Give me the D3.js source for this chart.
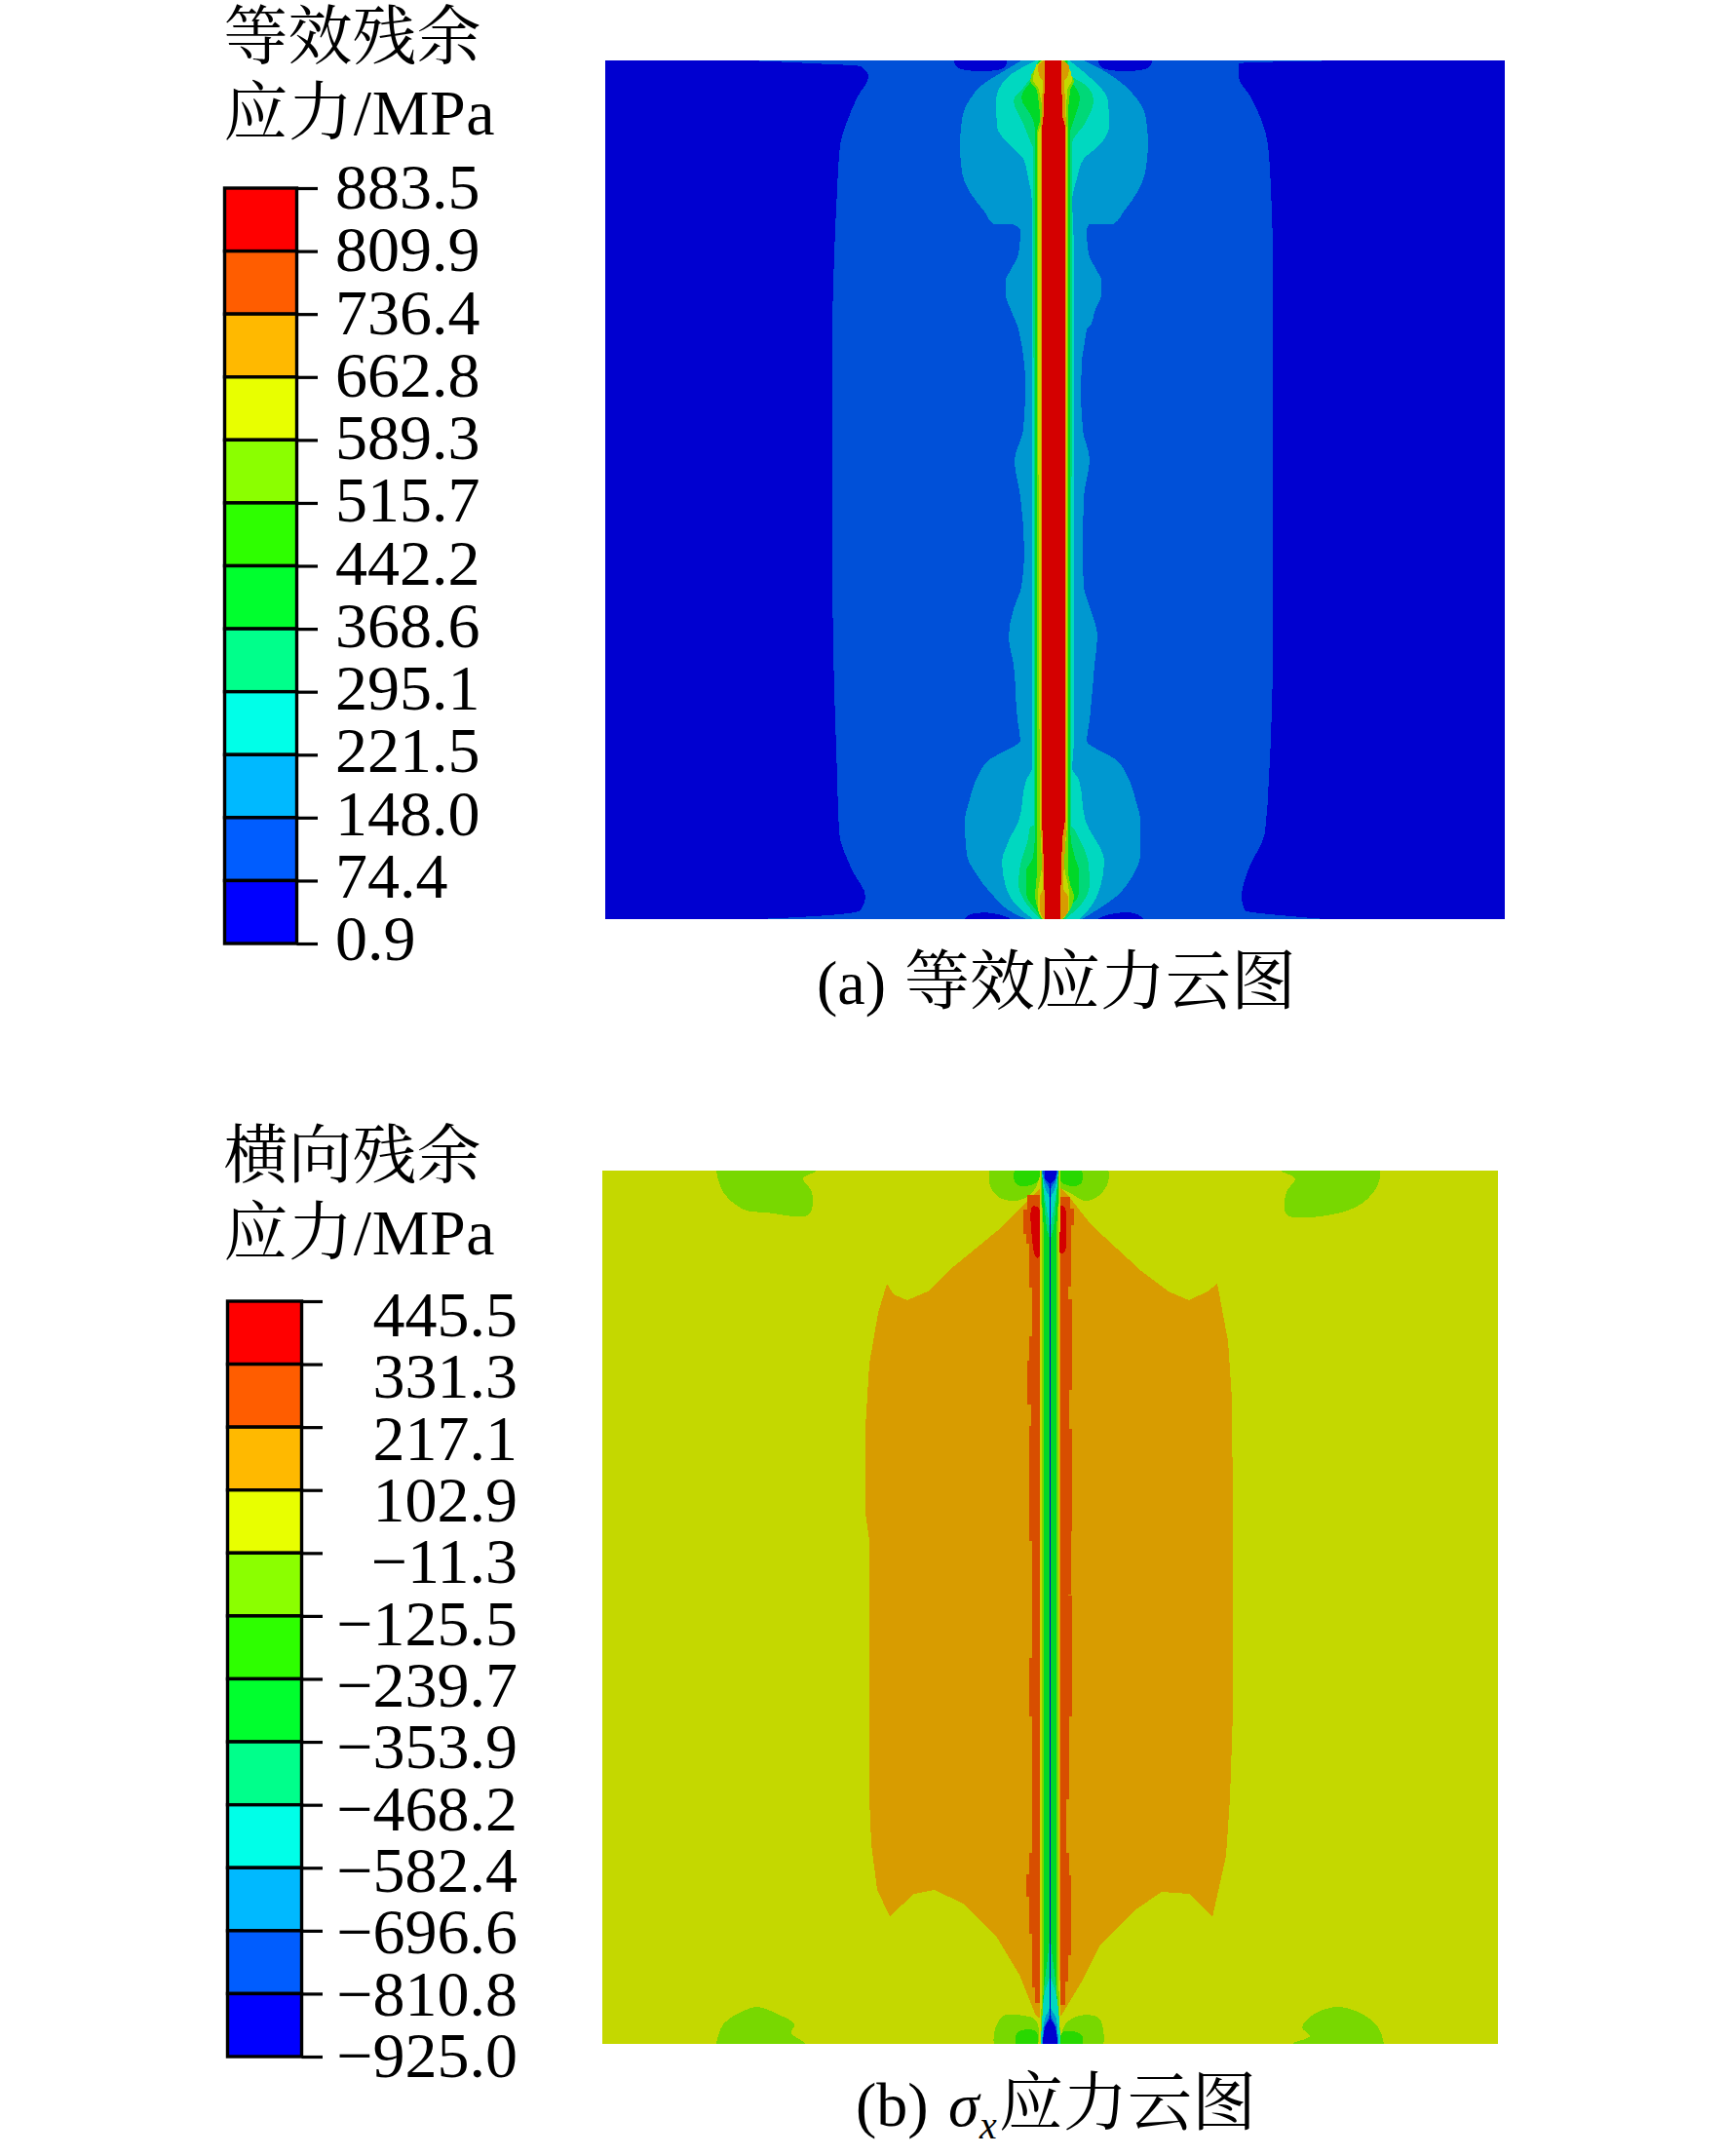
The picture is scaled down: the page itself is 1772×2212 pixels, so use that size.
<!DOCTYPE html>
<html><head><meta charset="utf-8">
<script src="https://cdn.jsdelivr.net/npm/d3@7"></script>
<style>
html,body{margin:0;padding:0;background:#fff}
svg{display:block}
text{font-family:"Liberation Serif","Noto Serif CJK SC","Noto Sans CJK SC",serif;fill:#000}
</style></head><body>
<script>
// ---- legends ----
const legendColors = ["#FF0000","#FF5D00","#FFB900","#E8FF00","#8BFF00","#2EFF00","#00FF2E","#00FF8B","#00FFE8","#00B9FF","#005DFF","#0000FF"];
const ticksA = [883.5,809.9,736.4,662.8,589.3,515.7,442.2,368.6,295.1,221.5,148.0,74.4,0.9];
const ticksB = [445.5,331.3,217.1,102.9,-11.3,-125.5,-239.7,-353.9,-468.2,-582.4,-696.6,-810.8,-925.0];
const titleA = ["等效残余","应力/MPa"];
const titleB = ["横向残余","应力/MPa"];
// ---- shaded field colours ----
const C = {bg:"#0000D0",b1:"#0050D8",b2:"#0098D0",teal:"#00D8C0",sea:"#00D878",grn:"#00D828",gr2:"#28D800",lime:"#78D800",yel:"#C4D800",org:"#D89C00",ror:"#D84E00",red:"#D40000"};
// ---- panel (a): contour bands, rows of [y, left, right] ----
const a1=[[0,144,760],[3,209,647],[6,259,647],[17,267,647],[37,256,659],[63,245,671],[86,238,677],[132,235,680],[200,232,682],[276,230,682],[505,230,682],[606,231,682],[735,235,678],[792,237,674],[832,251,656],[858,264,650],[872,259,653],[878,212,700],[881,153,736]];
const a2=[[0,424,488],[8,411,504],[25,384,529],[40,371,543],[55,364,551],[85,361,554],[115,363,551],[135,371,543],[155,386,529],[168,396,518],[168.5,416,493],[175,423,491],[198,421,493],[215,413,501],[225,408,506],[240,408,506],[258,414,499],[270,419,496],[276,421,491],[333,428,485],[379,426,487],[410,417,494],[448,423,488],[505,427,487],[540,424,488],[563,416,495],[591,411,502],[620,416,499],[677,420,494],[698,423,491],[708,408,504],[716,393,519],[735,379,533],[758,371,541],[781,366,546],[815,368,546],[835,378,539],[858,396,521],[875,416,496],[881,429,486]];
const a3=[[0,439,473],[18,409,495],[41,398,513],[68,399,514],[88,413,503],[101,426,488],[121,431,481],[145,435,476],[190,435,478],[700,435,478],[726,435,476],[738,429,483],[781,421,490],[798,412,499],[808,408,505],[821,404,509],[848,408,505],[871,423,493],[881,436,483]];
const a4=[[0,441,472],[11,438,471],[28,426,493],[41,416,498],[65,426,489],[85,434,476],[90,436,476],[785,437,475],[786,433,476],[798,431,483],[825,423,493],[845,421,494],[865,429,486],[881,443,469]];
const a5=[[0,442,471],[18,436,474],[38,424,484],[61,436,478],[75,438,474],[790,438,474],[818,436,479],[831,429,483],[855,429,483],[875,441,469],[881,444,468]];
const a6=[[0,444,469],[8,438,470],[21,433,478],[31,440,474],[60,443,472],[75,440,472],[830,440,472],[845,439,474],[858,438,478],[871,441,474],[881,445,467]];
const a7=[[0,446,466],[5,439,472],[20,436,476],[30,442,471],[60,446,470],[75,441,471],[778,443,471],[825,445,468],[855,441,473],[871,441,473],[881,446,466]];
const a8=[[0,447,465],[6,441,473],[15,442,472],[22,446,468],[70,444,470],[778,444,470],[850,446,467],[858,443,472],[872,443,472],[881,447,465]];
const a9=[[0,448,465],[55,447,466],[70,445,469],[778,445,469],[798,446,466],[881,448,464]];
const aPatches=[[[355,0],[409,0],[405,8],[360,8]],[[503,0],[558,0],[553,8],[508,8]],[[366,881],[372,876],[395,875],[413,881]],[[503,881],[515,876],[540,875],[549,881]]];
// ---- panel (b): polygons of [x, y] and rows of [y, left, right] ----
const bOrange=[[450,18],[445,22],[405,62],[355,103],[334,124],[313,133],[299,127],[292,116],[283,146],[274,198],[270,263],[270,351],[274,380],[274,644],[276,691],[282,738],[295,765],[320,742],[341,738],[370,752],[405,787],[428,825],[444,865],[447,869],[471,867],[492,832],[511,794],[546,759],[574,740],[602,742],[626,766],[640,703],[644,644],[647,556],[647,351],[646,234],[642,175],[631,116],[621,124],[602,133],[581,124],[553,103],[502,56],[475,22],[470,18]];
const bBlobs=[[[117,-4],[117,0],[124,22],[145,40],[168,43],[212,45],[215,22],[206,8],[220,0],[220,-4]],[[696,-4],[696,0],[711,8],[702,22],[702,45],[749,45],[779,34],[796,14],[796,-4]],[[117,900],[117,896],[124,876],[145,862],[159,858],[179,865],[197,876],[194,885],[209,896],[209,900]],[[708,900],[708,896],[726,888],[718,879],[731,865],[755,858],[779,865],[796,879],[802,896],[802,900]],[[400,-4],[397,12],[405,26],[419,31],[432,29],[445,17],[447,-4]],[[469,-4],[469,16],[482,24],[495,31],[509,26],[519,12],[517,-4]],[[404,900],[403,881],[412,867],[432,867],[445,872],[445,900]],[[472,900],[475,876],[490,867],[509,869],[514,882],[512,900]]];
const bInner=[[[425,-4],[423,11],[430,16],[447,11],[447,-4]],[[470,-4],[470,11],[484,16],[492,12],[490,-4]],[[426,900],[426,884],[445,883],[445,900]],[[472,900],[472,884],[487,884],[493,889],[490,900]]];
const bLeftEdge=[[25,444],[40,436],[65,432],[75,435],[120,438],[170,441],[195,438],[240,436],[262,440],[380,438],[500,441],[560,438],[670,441],[700,441],[722,438],[745,435],[783,438],[838,441],[854,444]];
const bRightEdge=[[27,475],[39,480],[56,484],[119,481],[132,478],[225,482],[265,479],[370,482],[435,481],[436,478],[560,482],[645,479],[700,476],[723,479],[745,481],[805,481],[832,478],[856,475]];
const bRedL=[[[441,37],[446,37],[448,38],[448,89],[445,89],[441,70]],[[469,37],[474,37],[476,60],[474,84],[469,84]]];
const bYel=[[0,449,470],[30,449,470],[100,449,469],[800,449,469],[860,449,470],[896,449,470]];
const bLime=[[0,450,469],[100,451,468],[800,451,468],[896,450,470]];
const bGrn=[[0,451,468],[30,451,468],[60,453,466],[820,453,466],[860,452,467],[896,450,469]];
const bSea=[[0,451,468],[25,453,466],[60,456,463],[70,459,460],[782,459,460],[842,453,466],[860,452,467],[896,450,470]];
const bTeal=[[0,451,468],[22,453,466],[40,456,463],[60,459,460],[825,459,460],[843,454,465],[860,452,468],[896,450,470]];
const bSky=[[0,451,468],[12,453,466],[22,456,463],[28,459,460],[858,459,460],[870,454,466],[896,451,468]];
const bMid=[[0,452,467],[10,454,465],[20,459,460],[865,459,460],[880,453,466],[896,452,467]];
const bBlue=[[0,454,466],[8,454,465],[14,459,460],[869,459,460],[879,454,465],[896,452,467]];

const svg=d3.select("body").append("svg").attr("width",1772).attr("height",2212);

// ---- panel builders ----
function panel(x0,x1,y0,y1,domX,domY,bg,id){
  const x=d3.scaleLinear().domain(domX).range([x0,x1]);
  const y=d3.scaleLinear().domain(domY).range([y0,y1]);
  const g=svg.append("g").attr("shape-rendering","crispEdges");
  g.append("clipPath").attr("id",id).append("rect").attr("x",x0).attr("y",y0).attr("width",x1-x0).attr("height",y1-y0);
  const body=g.append("g").attr("clip-path",`url(#${id})`);
  body.append("rect").attr("x",x0).attr("y",y0).attr("width",x1-x0).attr("height",y1-y0).attr("fill",bg);
  const area=d3.area().y(d=>y(d[0])).x0(d=>x(d[1])).x1(d=>x(d[2]));
  const poly=d3.line().x(d=>x(d[0])).y(d=>y(d[1]));
  return {
    band:(rows,c,curve=d3.curveMonotoneY)=>body.append("path").attr("d",area.curve(curve)(rows)).attr("fill",c),
    polys:(list,c,curve=d3.curveCatmullRomClosed.alpha(0.5))=>body.selectAll(null).data(list).enter().append("path").attr("d",d=>poly.curve(curve)(d)).attr("fill",c)
  };
}
// (a): x reference 624 for value 0, plot spans 621–1544
const pa=panel(621,1544,62,943,[-3,920],[0,881],C.bg,"clipA");
pa.band(a1,C.b1);
pa.polys(aPatches,C.bg);
pa.band(a2,C.b2); pa.band(a3,C.teal); pa.band(a4,C.sea); pa.band(a5,C.grn);
pa.band(a6,C.lime); pa.band(a7,C.yel); pa.band(a8,C.org); pa.band(a9,C.red);

// (b)
const pb=panel(618,1537,1201,2097,[0,919],[0,896],C.yel,"clipB");
pb.polys(bBlobs,C.lime); pb.polys(bInner,C.gr2);
pb.polys([bOrange],C.org,d3.curveLinearClosed);
// red-orange stripes built from the edge readings
const leftStripe=bLeftEdge.map(d=>[d[0],d[1],448.5]);
const rightStripe=bRightEdge.map(d=>[d[0],470,d[1]]);
pb.band(leftStripe,C.ror,d3.curveStepAfter); pb.band(rightStripe,C.ror,d3.curveStepAfter);
pb.polys(bRedL,C.red);
pb.band(bYel,C.yel); pb.band(bLime,C.lime); pb.band(bGrn,C.grn);
pb.band(bSea,C.sea); pb.band(bTeal,C.teal); pb.band(bSky,C.b2); pb.band(bMid,C.b1); pb.band(bBlue,C.bg);

// ---- legends ----
const fmt=d3.format(".1f");
function legend(ticks,xL,xR,yTop,yBot,tickEnd,opt){
  const y=d3.scaleLinear().domain([ticks[12],ticks[0]]).range([yBot,yTop]);
  const g=svg.append("g");
  g.selectAll("rect.cell").data(legendColors).enter().append("rect").attr("class","cell")
    .attr("x",xL).attr("width",xR-xL)
    .attr("y",(d,i)=>y(ticks[i])).attr("height",(d,i)=>y(ticks[i+1])-y(ticks[i]))
    .attr("fill",d=>d).attr("stroke","#000").attr("stroke-width",3.4);
  const ax=g.append("g").attr("transform",`translate(${xR},0)`)
    .call(d3.axisRight(y).tickValues(ticks).tickSize(tickEnd-xR).tickFormat(""));
  ax.select(".domain").remove();
  ax.selectAll("line").attr("stroke","#000").attr("stroke-width",3.2);
  const ly=d3.scaleLinear().domain([0,12]).range(opt.base);
  g.selectAll("text.lab").data(ticks).enter().append("text").attr("class","lab")
    .attr("x",opt.x).attr("y",(d,i)=>ly(i)).attr("text-anchor",opt.anchor)
    .attr("font-size",opt.size).text(d=>fmt(d));
}
legend(ticksA,230.5,304.5,193,968,326,{x:344,anchor:"start",size:66,base:[214,985]});
legend(ticksB,233.5,309.5,1335,2110,331,{x:531,anchor:"end",size:66,base:[1371,2131]});

// ---- titles ----
function title(lines,x,ys){
  svg.selectAll(null).data(lines).enter().append("text").attr("x",x).attr("y",(d,i)=>ys[i])
    .attr("font-size",66).attr("letter-spacing",(d,i)=>i?0.6:0).text(d=>d);
}
title(titleA,229.5,[60,138]);
title(titleB,229.5,[1208,1287]);

// ---- captions ----
svg.append("text").attr("x",838).attr("y",1030).attr("font-size",64).text("(a)");
svg.append("text").attr("x",928).attr("y",1030).attr("font-size",67).text("等效应力云图");
svg.append("text").attr("x",878).attr("y",2181).attr("font-size",64).text("(b)");
svg.append("text").attr("x",973).attr("y",2181).attr("font-size",64).attr("font-style","italic").text("σ");
svg.append("text").attr("x",1005).attr("y",2194).attr("font-size",40).attr("font-style","italic").text("x");
svg.append("text").attr("x",1025).attr("y",2180).attr("font-size",66).text("应力云图");
</script>
</body></html>
